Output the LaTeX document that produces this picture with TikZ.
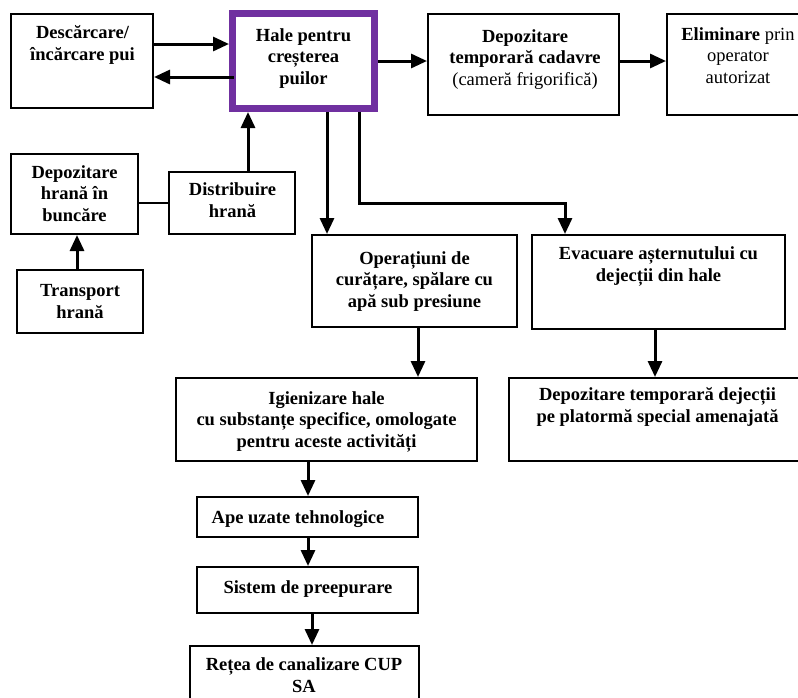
\documentclass[tikz,border=0pt]{standalone}
\usepackage{fontspec}
\setmainfont{Liberation Serif}
\usetikzlibrary{arrows.meta}
\definecolor{halepurple}{HTML}{7030A0}
\tikzset{
  box/.style={draw=black, line width=2pt, fill=none, inner sep=0pt},
  halebox/.style={draw=halepurple, line width=7pt, inner sep=0pt},
  txt/.style={inner sep=0pt, align=center, anchor=base,
    font=\fontsize{18.5}{21.3}\selectfont\bfseries},
  rtxt/.style={inner sep=0pt, align=center, anchor=base,
    font=\fontsize{18.5}{21.3}\selectfont},
  arr/.style={line width=3pt, -{Triangle[length=16pt,width=14pt]}},
  plain/.style={line width=1.4pt},
}
\newcommand\mkbox[6]{\node[#6, minimum width={(#4-#2)*1pt}, minimum height={(#5-#3)*1pt}] (#1) at ({(#2+#4)/2},{(#3+#5)/2}) {};}
\begin{document}
\begin{tikzpicture}[x=1pt,y=-1pt]
\useasboundingbox (0,0) rectangle (798,697);
\clip (0,0) rectangle (798,697);
% boxes
\mkbox{desc}{11}{14}{153}{108}{box}
\mkbox{hale}{232.5}{13.5}{374.5}{108.5}{halebox}
\mkbox{dep}{428}{14}{619}{115}{box}
\mkbox{elim}{667}{14}{810}{115}{box}
\mkbox{deph}{11}{154}{138}{234}{box}
\mkbox{dist}{169}{172}{295}{234}{box}
\mkbox{trans}{17}{270}{143}{333}{box}
\mkbox{oper}{312}{235}{517}{327}{box}
\mkbox{evac}{532}{235}{785}{329}{box}
\mkbox{igi}{176}{378}{477}{461}{box}
\mkbox{depdej}{509}{378}{808}{461}{box}
\mkbox{ape}{197}{497}{418}{537}{box}
\mkbox{sist}{197}{567}{418}{613}{box}
\mkbox{retea}{190}{646}{419}{710}{box}
% texts (anchor = baseline of the last line)
\node[txt] (desc-t) at (82.5,60) {Descărcare/\\încărcare pui};
\node[txt] (hale-t) at (303.5,84) {Hale pentru\\creșterea\\puilor};
\node[txt] (dep-t) at (525,85) {Depozitare\\temporară cadavre\\\mdseries(cameră frigorifică)};
\node[rtxt] (elim-t) at (738,83) {\textbf{Eliminare} prin\\operator\\autorizat};
\node[txt] (deph-t) at (74.5,221) {Depozitare\\hrană în\\buncăre};
\node[txt] (dist-t) at (232.5,217) {Distribuire\\hrană};
\node[txt] (trans-t) at (80,318) {Transport\\hrană};
\node[txt] (oper-t) at (414.5,307) {Operațiuni de\\curățare, spălare cu\\apă sub presiune};
\node[txt] (evac-t) at (658.5,281) {Evacuare așternutului cu\\dejecții din hale};
\node[txt] (igi-t) at (326.5,447) {Igienizare hale\\cu substanțe specifice, omologate\\pentru aceste activități};
\node[txt] (depdej-t) at (657.5,422) {Depozitare temporară dejecții\\pe platormă special amenajată};
\node[txt] (ape-t) at (298,523) {Ape uzate tehnologice};
\node[txt] (sist-t) at (308,593) {Sistem de preepurare};
\node[txt] (retea-t) at (304,692) {Rețea de canalizare CUP\\SA};
% helper coordinates
\coordinate (y44) at (0,44);
\coordinate (y77) at (0,77);
\coordinate (y61) at (0,61);
\coordinate (y203) at (0,203);
\coordinate (x248) at (248,0);
\coordinate (x77) at (77,0);
\coordinate (x327) at (327,0);
\coordinate (x359) at (359,0);
\coordinate (x565) at (565,0);
\coordinate (x418) at (418,0);
\coordinate (x655) at (655,0);
\coordinate (x308) at (308,0);
\coordinate (x312) at (312,0);
% connectors
\draw[arr] (desc.east |- y44) -- (hale.west |- y44);
\draw[arr] (hale.center |- y77) ++(-70,0) -- (desc.east |- y77);
\draw[arr] (hale.east |- y61) -- (dep.west |- y61);
\draw[arr] (dep.east |- y61) -- (elim.west |- y61);
\draw[arr] (dist.north -| x248) -- (hale.south -| x248);
\draw[plain] (deph.east |- y203) -- (dist.west |- y203);
\draw[arr] (trans.north -| x77) -- (deph.south -| x77);
\draw[arr] (hale.south -| x327) -- (oper.north -| x327);
\draw[arr] (hale.south -| x359) -- (x359 |- y203) -- (x565 |- y203) -- (evac.north -| x565);
\draw[arr] (oper.south -| x418) -- (igi.north -| x418);
\draw[arr] (evac.south -| x655) -- (depdej.north -| x655);
\draw[arr] (igi.south -| x308) -- (ape.north -| x308);
\draw[arr] (ape.south -| x308) -- (sist.north -| x308);
\draw[arr] (sist.south -| x312) -- (retea.north -| x312);
\end{tikzpicture}
\end{document}
